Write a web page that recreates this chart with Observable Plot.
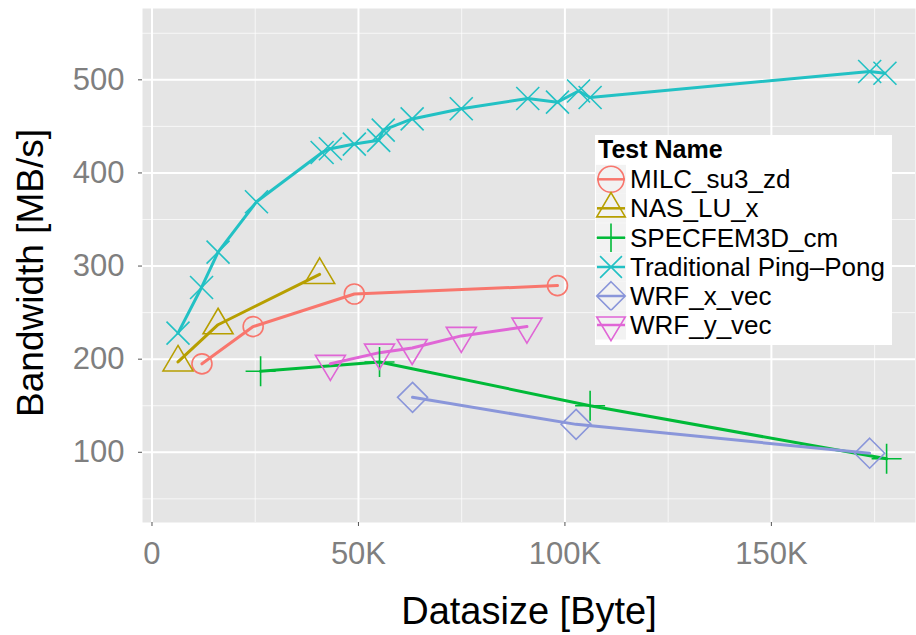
<!DOCTYPE html>
<html>
<head>
<meta charset="utf-8">
<script src="https://cdn.jsdelivr.net/npm/d3@7"></script>
<script src="https://cdn.jsdelivr.net/npm/@observablehq/plot@0.6"></script>
<style>
  html, body { margin: 0; padding: 0; background: white; }
  #wrap { position: relative; width: 916px; height: 635px; overflow: hidden; font-family: "Liberation Sans", Arial, sans-serif; }
  #legend { position: absolute; left: 0; top: 0; }
  g[aria-label="x-axis tick label"], g[aria-label="y-axis tick label"] { fill: #7f7f7f; }
  g[aria-label="x-axis tick"], g[aria-label="y-axis tick"] { stroke: #555; }
</style>
</head>
<body>
<div id="wrap"></div>
<script>
// ---- data (x in bytes, y in MB/s) ----
const seriesNames = ["MILC_su3_zd", "NAS_LU_x", "SPECFEM3D_cm", "Traditional Ping\u2013Pong", "WRF_x_vec", "WRF_y_vec"];
const seriesColors = ["#F8766D", "#B79F00", "#00BA38", "#22C1C4", "#8A96DA", "#E066D6"];

const milcX = [12100, 24500, 49000, 98200];
const milcY = [195, 235, 270, 279];

const nasX = [6300, 16000, 40600];
const nasY = [197, 237, 291];

const specX = [26300, 55100, 106100, 177900];
const specY = [187, 197, 150, 93];

const pingX = [6300, 12000, 16000, 25300, 41200, 43200, 49000, 54900, 56000, 63000, 74900, 91000, 98200, 103300, 106100, 173800, 177500];
const pingY = [228, 277, 315, 369, 422, 426, 431, 435, 446, 458, 469, 480, 476, 488, 481, 509, 507];

const wrfxX = [63100, 102700, 173800];
const wrfxY = [159, 130, 99];

const wrfyX = [43200, 55100, 63000, 74900, 90800];
const wrfyY = [195, 207, 212, 225, 235];

const xTicks = [0, 50000, 100000, 150000];
const xMinor = [25000, 75000, 125000, 175000];
const yTicks = [100, 200, 300, 400, 500];
const yMinor = [50, 150, 250, 350, 450, 550];

const xTitle = "Datasize [Byte]";
const yTitle = "Bandwidth [MB/s]";
const legendTitle = "Test Name";

const seriesX = [milcX, nasX, specX, pingX, wrfxX, wrfyX];
const seriesY = [milcY, nasY, specY, pingY, wrfxY, wrfyY];

// ---- custom ggplot-like symbols ----
function sym(fn) { return { draw(ctx, size) { const s = Math.sqrt(size / Math.PI) / 10; fn(ctx, s); } }; }
const circleS = sym((c, s) => { c.moveTo(10 * s, 0); c.arc(0, 0, 10 * s, 0, 2 * Math.PI); c.closePath(); });
const triUpS = sym((c, s) => { c.moveTo(0, -16.5 * s); c.lineTo(15 * s, 9 * s); c.lineTo(-15 * s, 9 * s); c.closePath(); });
const plusS = sym((c, s) => { c.moveTo(-15 * s, 0); c.lineTo(15 * s, 0); c.moveTo(0, -15 * s); c.lineTo(0, 15 * s); });
const timesS = sym((c, s) => { const a = 11.5 * s; c.moveTo(-a, -a); c.lineTo(a, a); c.moveTo(-a, a); c.lineTo(a, -a); });
const diamondS = sym((c, s) => { const a = 15 * s; c.moveTo(0, -a); c.lineTo(a, 0); c.lineTo(0, a); c.lineTo(-a, 0); c.closePath(); });
const triDownS = sym((c, s) => { c.moveTo(0, 16.5 * s); c.lineTo(15 * s, -8.5 * s); c.lineTo(-15 * s, -8.5 * s); c.closePath(); });
const symbols = [circleS, triUpS, plusS, timesS, diamondS, triDownS];

const tables = seriesNames.map((name, i) => seriesX[i].map((x, j) => ({ name, x, y: seriesY[i][j] })));

const marks = [
  Plot.frame({ fill: "#E5E5E5", stroke: null }),
  Plot.gridX(xMinor, { stroke: "white", strokeOpacity: 0.7, strokeWidth: 1 }),
  Plot.gridY(yMinor, { stroke: "white", strokeOpacity: 0.7, strokeWidth: 1 }),
  Plot.gridX(xTicks, { stroke: "white", strokeOpacity: 1, strokeWidth: 2 }),
  Plot.gridY(yTicks, { stroke: "white", strokeOpacity: 1, strokeWidth: 2 }),
  Plot.axisX({ ticks: xTicks, tickSize: 4, tickPadding: 15, fontSize: 31, label: null,
    tickFormat: d => d === 0 ? "0" : (d / 1000) + "K" }),
  Plot.axisY({ ticks: yTicks, tickSize: 4, tickPadding: 14, fontSize: 31, label: null }),
  Plot.text([xTitle], { text: d => d, frameAnchor: "bottom", dy: 101, fontSize: 38, fill: "black" })
];
tables.forEach((t, i) => {
  marks.push(Plot.line(t, { x: "x", y: "y", stroke: seriesColors[i], strokeWidth: 3 }));
});
tables.forEach((t, i) => {
  marks.push(Plot.dot(t, { x: "x", y: "y", r: 10, symbol: symbols[i], stroke: seriesColors[i], fill: "none", strokeWidth: 1.6 }));
});

const chart = Plot.plot({
  width: 916,
  height: 635,
  marginLeft: 142,
  marginTop: 8,
  marginBottom: 113,
  marginRight: 1,
  style: { fontFamily: "'Liberation Sans', Arial, sans-serif", background: "white", overflow: "visible" },
  x: { domain: [-2300, 184900], label: null },
  y: { domain: [24.6, 576.6], label: null },
  marks
});
document.getElementById("wrap").appendChild(chart);

// ---- overlay: y title and legend ----
const lg = d3.select("#wrap").append("svg")
  .attr("id", "legend").attr("width", 916).attr("height", 635)
  .style("font-family", "'Liberation Sans', Arial, sans-serif");
lg.append("text").attr("transform", "translate(43,273) rotate(-90)")
  .attr("text-anchor", "middle").attr("font-size", 37).attr("fill", "black").text(yTitle);
lg.append("rect").attr("x", 595).attr("y", 135).attr("width", 297).attr("height", 210).attr("fill", "white");
lg.append("text").attr("x", 598).attr("y", 158).attr("font-size", 25).attr("font-weight", "bold").attr("fill", "black").text(legendTitle);
const rowBase = [188.3, 217.3, 246.7, 276, 305, 334];
seriesNames.forEach((name, i) => {
  const cy = rowBase[i] - 9;
  const g = lg.append("g");
  g.append("rect").attr("x", 596).attr("y", cy - 14.5).attr("width", 30).attr("height", 29).attr("fill", "#F2F2F2");
  g.append("line").attr("x1", 597).attr("x2", 625).attr("y1", cy).attr("y2", cy)
    .attr("stroke", seriesColors[i]).attr("stroke-width", 2.5);
  const p = d3.path();
  const sc = i === 0 ? 1.3 : 0.95;
  symbols[i].draw(p, Math.PI * (10 * sc) * (10 * sc));
  g.append("path").attr("d", p.toString()).attr("transform", `translate(611,${cy})`)
    .attr("fill", "none").attr("stroke", seriesColors[i]).attr("stroke-width", 1.6);
  g.append("text").attr("x", 630).attr("y", rowBase[i]).attr("font-size", 26).attr("fill", "black").text(name);
});
</script>
</body>
</html>
